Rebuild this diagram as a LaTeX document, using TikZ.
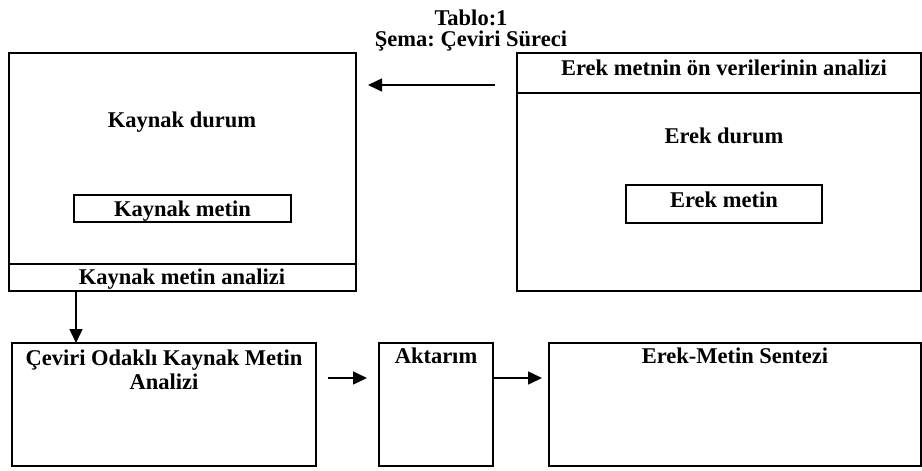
\documentclass[tikz,border=0pt]{standalone}
\usepackage{fontspec}
\setmainfont{Liberation Serif}
\usetikzlibrary{arrows.meta}
\frenchspacing
\begin{document}
\begin{tikzpicture}[x=1pt,y=-1pt,
  box/.style={draw, line width=2pt, rectangle, inner sep=0pt, outer sep=0pt, anchor=north west},
  lbl/.style={font=\fontsize{22.5}{24}\selectfont\bfseries, inner sep=0pt, anchor=base},
  conn/.style={line width=1.5pt, -{Triangle[length=14pt,width=13pt]}}]
\useasboundingbox (0,0) rectangle (922,471);
% title
\node[lbl] (t1) at (471,25) {Tablo:1};
\node[lbl] (t2) at (471,46) {Şema: Çeviri Süreci};
% left big box
\node[box, minimum width=347pt, minimum height=238pt] (kd) at (9,53) {};
\draw[line width=2pt] (kd.west |- 0,264) -- (kd.east |- 0,264);
\node[lbl] (kdl) at (182,127) {Kaynak durum};
\node[box, minimum width=217pt, minimum height=27pt] (km) at (74,195) {};
\node[lbl] at (km.center |- 0,216) {Kaynak metin};
\node[lbl] (kma) at (182,284) {Kaynak metin analizi};
% right big box
\node[box, minimum width=404pt, minimum height=238pt] (ed) at (517,53) {};
\draw[line width=2pt] (ed.west |- 0,93) -- (ed.east |- 0,93);
\node[lbl] (evl) at (724,75) {Erek metnin ön verilerinin analizi};
\node[lbl] (edl) at (724,143) {Erek durum};
\node[box, minimum width=196pt, minimum height=38pt] (em) at (626,185) {};
\node[lbl] at (em.center |- 0,207) {Erek metin};
% bottom row
\node[box, minimum width=304pt, minimum height=123pt] (cev) at (12,343) {};
\node[lbl] (cevl1) at (164,365) {Çeviri Odaklı Kaynak Metin};
\node[lbl] (cevl2) at (164,389) {Analizi};
\node[box, minimum width=114pt, minimum height=123pt] (akt) at (379,343) {};
\node[lbl] at (akt.center |- 0,363) {Aktarım};
\node[box, minimum width=372pt, minimum height=123pt] (sen) at (549,343) {};
\node[lbl] at (735,363) {Erek-Metin Sentezi};
% connectors
\coordinate (a1s) at (495,85);
\coordinate (a1e) at (368,85);
\draw[conn] (a1s) -- (a1e);
\coordinate (d1) at (76,291);
\draw[conn] (d1) -- (cev.north -| d1);
\coordinate (b1s) at (328,378);
\coordinate (b1e) at (367,378);
\draw[conn] (b1s) -- (b1e);
\coordinate (b2e) at (542,378);
\draw[conn] (akt.east |- b2e) -- (b2e);
\end{tikzpicture}
\end{document}
